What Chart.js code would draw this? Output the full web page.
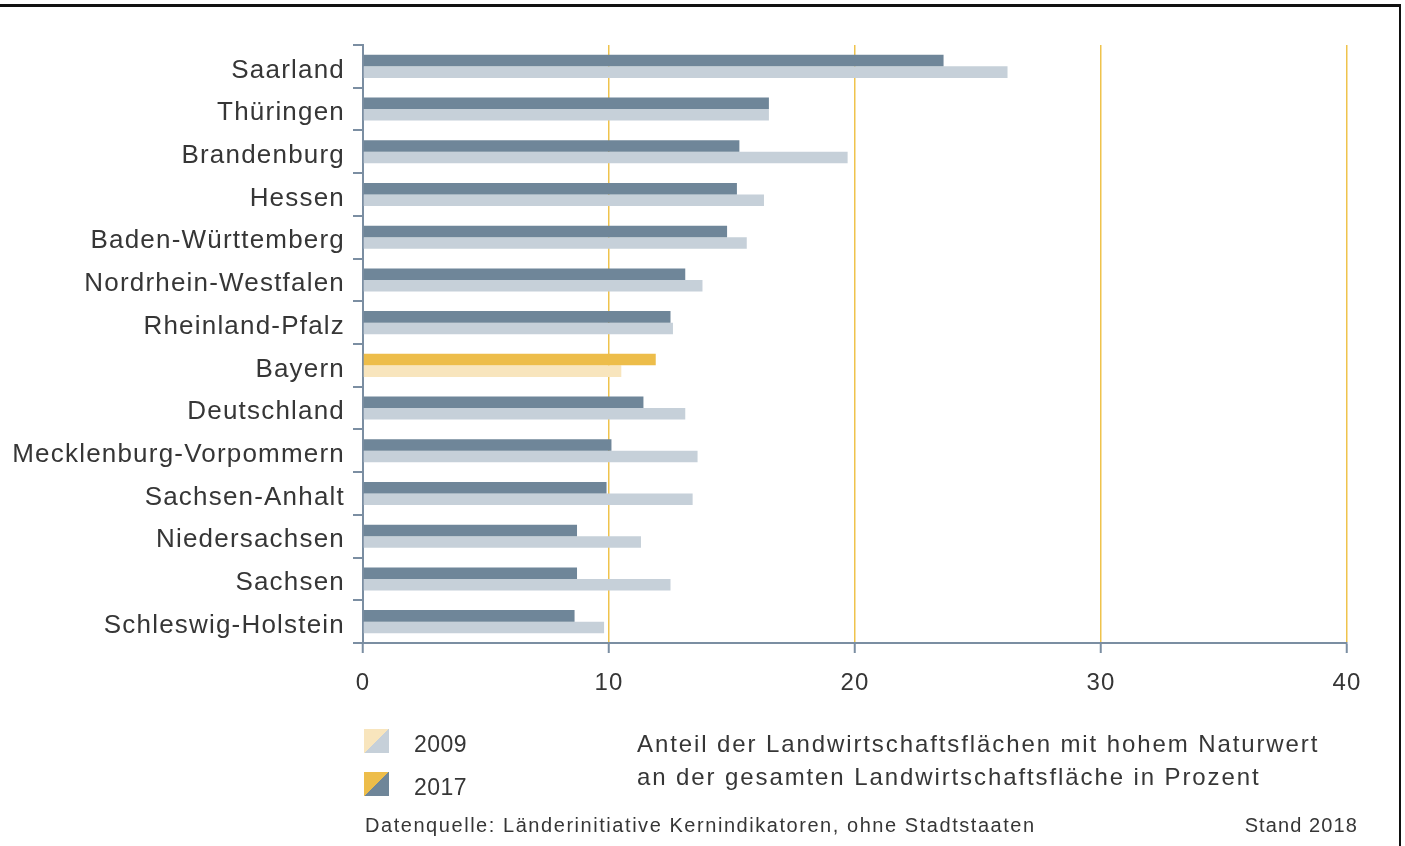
<!DOCTYPE html>
<html lang="de">
<head>
<meta charset="utf-8">
<title>HNV-Farmland</title>
<script src="https://cdn.jsdelivr.net/npm/chart.js@4"></script>
<style>
  body { margin: 0; background: #fff; }
  #wrap { position: relative; width: 1405px; height: 846px; font-family: "Liberation Sans", Arial, sans-serif; color: #363636; }
  #frame { position: absolute; left: 0; top: 4px; width: 1401px; height: 842px; border-top: 3px solid #111; border-right: 2px solid #111; box-sizing: border-box; pointer-events: none; }
  .txt { position: absolute; white-space: nowrap; line-height: 1; }
  .sw { position: absolute; width: 25px; height: 24px; }
</style>
</head>
<body>
<div id="wrap">
  <canvas id="chart"></canvas>
  <div id="frame"></div>

  <div class="sw" style="left:364px; top:729px; background: linear-gradient(to bottom right, #f8e5bd 50%, #c6d0d9 50%);"></div>
  <div class="sw" style="left:364px; top:772px; background: linear-gradient(to bottom right, #edbd4a 50%, #6f8699 50%);"></div>
  <div class="txt" style="left:414px; top:733px; font-size:23px; letter-spacing:0.5px;">2009</div>
  <div class="txt" style="left:414px; top:776px; font-size:23px; letter-spacing:0.5px;">2017</div>

  <div class="txt" style="left:637px; top:732px; font-size:24px; letter-spacing:1.9px;">Anteil der Landwirtschaftsflächen mit hohem Naturwert</div>
  <div class="txt" style="left:637px; top:765px; font-size:24px; letter-spacing:1.9px;">an der gesamten Landwirtschaftsfläche in Prozent</div>

  <div class="txt" style="left:365px; top:815px; font-size:20px; letter-spacing:1.55px;">Datenquelle: Länderinitiative Kernindikatoren, ohne Stadtstaaten</div>
  <div class="txt" style="right:47px; top:815px; font-size:20px; letter-spacing:1.1px;">Stand 2018</div>
</div>

<script>
// Anteil HNV-Flächen in Prozent, gelesen aus der Grafik
const laender = [
    'Saarland', 'Thüringen', 'Brandenburg', 'Hessen', 'Baden-Württemberg',
    'Nordrhein-Westfalen', 'Rheinland-Pfalz', 'Bayern', 'Deutschland',
    'Mecklenburg-Vorpommern', 'Sachsen-Anhalt', 'Niedersachsen', 'Sachsen',
    'Schleswig-Holstein'
];
const werte2017 = [23.6, 16.5, 15.3, 15.2, 14.8, 13.1, 12.5, 11.9, 11.4, 10.1, 9.9, 8.7, 8.7, 8.6];
const werte2009 = [26.2, 16.5, 19.7, 16.3, 15.6, 13.8, 12.6, 10.5, 13.1, 13.6, 13.4, 11.3, 12.5, 9.8];
const xTicks = [0, 10, 20, 30, 40];

const slate = '#6f8699';
const slateLight = '#c6d0d9';
const gold = '#edbd4a';
const goldLight = '#f8e5bd';
const axisColor = '#7b8ea2';
const gridYellow = '#efc34c';

const isBayern = (ctx) => laender[ctx.dataIndex] === 'Bayern';

// canvas letter spacing for the tick labels
const spacing = {
    id: 'spacing',
    beforeDraw(chart) {
        chart.ctx.letterSpacing = '1.2px';
    }
};

const ctx = document.getElementById('chart').getContext('2d');
new Chart(ctx, {
    type: 'bar',
    data: {
        labels: laender,
        datasets: [
            {
                label: '2017',
                data: werte2017,
                backgroundColor: (c) => isBayern(c) ? gold : slate,
                barPercentage: 1,
                categoryPercentage: 0.54
            },
            {
                label: '2009',
                data: werte2009,
                backgroundColor: (c) => isBayern(c) ? goldLight : slateLight,
                barPercentage: 1,
                categoryPercentage: 0.54
            }
        ]
    },
    options: {
        indexAxis: 'y',
        responsive: true,
        maintainAspectRatio: false,
        animation: false,
        layout: {
            padding: { top: 45, right: 58, left: 0, bottom: 0 }
        },
        plugins: {
            legend: { display: false },
            tooltip: { enabled: false }
        },
        scales: {
            x: {
                min: 0,
                max: 40,
                afterBuildTicks: (scale) => {
                    scale.ticks = xTicks.map(v => ({ value: v }));
                },
                afterFit: (scale) => { scale.height = 203; },
                grid: {
                    color: (c) => c.tick && c.tick.value === 0 ? 'rgba(0,0,0,0)' : gridYellow,
                    lineWidth: 1.5,
                    tickColor: axisColor,
                    tickLength: 10,
                    tickWidth: 2
                },
                border: { display: true, color: axisColor, width: 2 },
                ticks: {
                    color: '#363636',
                    padding: 16,
                    maxRotation: 0,
                    font: { family: '"Liberation Sans", Arial, sans-serif', size: 24 }
                }
            },
            y: {
                afterFit: (scale) => { scale.width = 363; },
                grid: {
                    offset: true,
                    drawOnChartArea: false,
                    color: axisColor,
                    tickLength: 10,
                    lineWidth: 2
                },
                border: { display: true, color: axisColor, width: 2 },
                ticks: {
                    color: '#363636',
                    padding: 8,
                    labelOffset: 4,
                    font: { family: '"Liberation Sans", Arial, sans-serif', size: 26 }
                }
            }
        }
    },
    plugins: [spacing]
});
</script>
</body>
</html>
